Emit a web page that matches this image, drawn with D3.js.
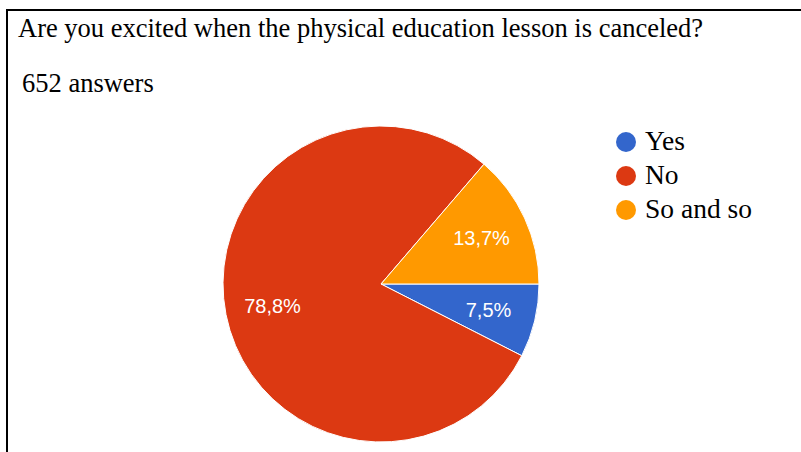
<!DOCTYPE html>
<html>
<head>
<meta charset="utf-8">
<script src="https://cdn.jsdelivr.net/npm/d3@7"></script>
<style>
  body { margin: 0; background: #fff; }
  svg { display: block; }
  .serif { font-family: "Liberation Serif", "Times New Roman", Times, serif; font-size: 26.5px; }
</style>
</head>
<body>
<div id="application"></div>
<script>
var title = "Are you excited when the physical education lesson is canceled?";
var subtitle = "652 answers";
var categories = ["Yes", "No", "So and so"];
var values = [7.5, 78.8, 13.7];
var colors = ["#3366cc", "#dc3912", "#ff9900"];

var width = 801;
var height = 452;

var svg = d3.select("#application")
  .append("svg")
  .attr("width", width)
  .attr("height", height);

// frame (only top and left edges show)
svg.append("path")
  .attr("d", "M7,452V10H801")
  .attr("fill", "none")
  .attr("stroke", "#000")
  .attr("stroke-width", 2);

svg.append("text")
  .attr("class", "serif")
  .attr("x", 18)
  .attr("y", 37)
  .attr("fill", "#000")
  .text(title);

svg.append("text")
  .attr("class", "serif")
  .attr("x", 22)
  .attr("y", 92)
  .attr("fill", "#000")
  .text(subtitle);

var cx = 381, cy = 284, radius = 158;

var color = d3.scaleOrdinal().domain(categories).range(colors);

var pie = d3.pie()
  .sort(null)
  .value(function(d, i) { return values[i]; })
  .startAngle(Math.PI / 2)
  .endAngle(Math.PI / 2 + 2 * Math.PI);

var arcs = pie(categories);

var arc = d3.arc().innerRadius(0).outerRadius(radius);
var labelArc = d3.arc().innerRadius(radius * 0.7).outerRadius(radius * 0.7);

var g = svg.append("g")
  .attr("transform", "translate(" + cx + "," + cy + ")");

g.selectAll(".slice")
  .data(arcs)
  .enter()
  .append("path")
  .attr("class", "slice")
  .attr("d", arc)
  .attr("fill", function(d) { return color(d.data); })
  .attr("stroke", "#fff")
  .attr("stroke-width", 1);

var fmt = d3.format(".1f");
g.selectAll(".label")
  .data(arcs)
  .enter()
  .append("text")
  .attr("class", "label")
  .attr("transform", function(d) { return "translate(" + labelArc.centroid(d) + ")"; })
  .attr("text-anchor", "middle")
  .attr("dy", "0.36em")
  .style("font-family", "Arial, 'Liberation Sans', sans-serif")
  .style("font-size", "20px")
  .attr("fill", "#fff")
  .text(function(d, i) { return fmt(values[i]).replace(".", ",") + "%"; });

// legend
var legendY = d3.scalePoint().domain(categories).range([142, 210]);

var legend = svg.selectAll(".legend")
  .data(categories)
  .enter()
  .append("g")
  .attr("class", "legend")
  .attr("transform", function(d) { return "translate(626," + legendY(d) + ")"; });

legend.append("circle")
  .attr("r", 10)
  .attr("fill", function(d) { return color(d); });

legend.append("text")
  .attr("class", "serif")
  .attr("x", 19)
  .attr("y", 8)
  .style("font-size", "27.5px")
  .attr("fill", "#000")
  .text(function(d) { return d; });
</script>
</body>
</html>
